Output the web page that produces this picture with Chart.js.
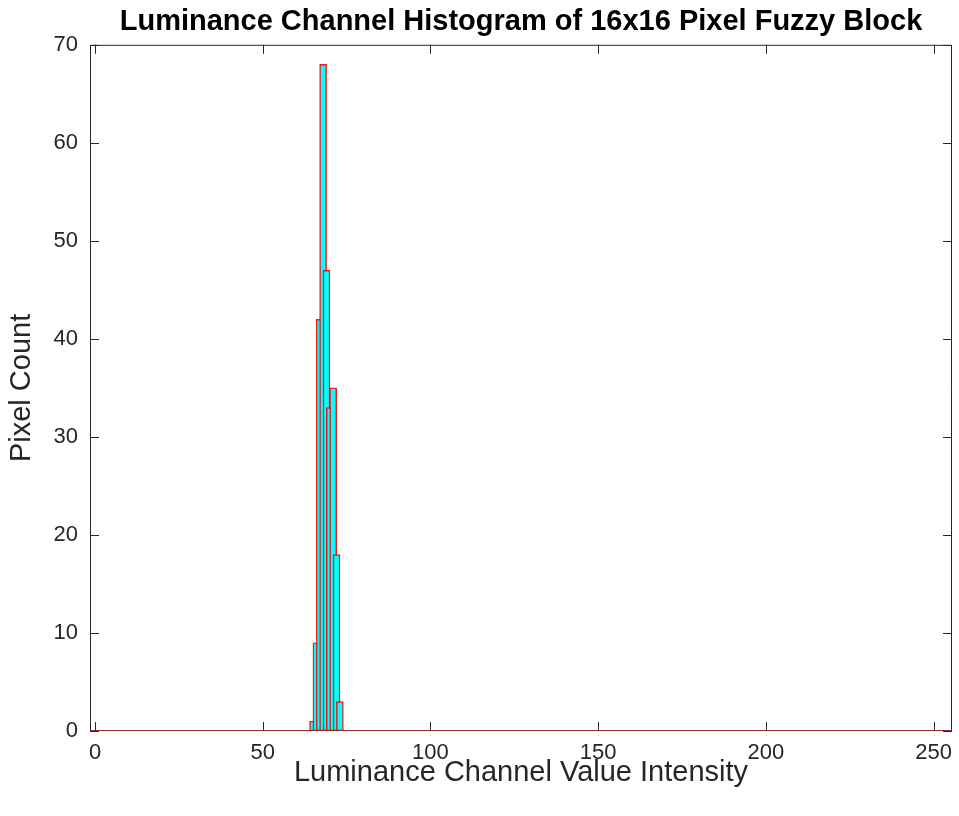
<!DOCTYPE html>
<html>
<head>
<meta charset="utf-8">
<title>Luminance Channel Histogram</title>
<script src="https://cdn.jsdelivr.net/npm/chart.js@4/dist/chart.umd.min.js"></script>
<style>
    html, body { margin: 0; padding: 0; background: #ffffff; }
    #wrap { width: 959px; height: 816px; }
</style>
</head>
<body>
<div id="wrap"><canvas id="hist-chart" width="959" height="816"></canvas></div>
<script>
// --- Data ---
const intensityBins = [65, 66, 67, 68, 69, 70, 71, 72, 73];
const pixelCounts = [1, 9, 42, 68, 47, 33, 35, 18, 3];
const xTickValues = [0, 50, 100, 150, 200, 250];
const yTickValues = [0, 10, 20, 30, 40, 50, 60, 70];

const chartTitle = "Luminance Channel Histogram of 16x16 Pixel Fuzzy Block";
const xAxisLabel = "Luminance Channel Value Intensity";
const yAxisLabel = "Pixel Count";

const axisColor = "#262626";
const fontFamily = "'Liberation Sans', Arial, Helvetica, sans-serif";

// --- Box + inward ticks (matlab style) ---
const boxPlugin = {
    id: "matlabBox",
    afterDatasetsDraw(chart) {
        const { ctx, chartArea: a, scales } = chart;
        const tickLen = 9;
        ctx.save();
        ctx.strokeStyle = axisColor;
        ctx.lineWidth = 1;
        ctx.beginPath();
        ctx.rect(a.left + 0.5, a.top + 0.5, a.right - a.left - 1, a.bottom - a.top - 1);
        xTickValues.forEach(v => {
            const px = Math.round(scales.x.getPixelForValue(v)) + 0.5;
            ctx.moveTo(px, a.bottom);
            ctx.lineTo(px, a.bottom - tickLen);
            ctx.moveTo(px, a.top);
            ctx.lineTo(px, a.top + tickLen);
        });
        yTickValues.forEach(v => {
            const py = Math.round(scales.y.getPixelForValue(v)) + 0.5;
            ctx.moveTo(a.left, py);
            ctx.lineTo(a.left + tickLen, py);
            ctx.moveTo(a.right, py);
            ctx.lineTo(a.right - tickLen, py);
        });
        ctx.stroke();

        // bar baseline
        const y0 = Math.round(scales.y.getPixelForValue(0)) - 0.5;
        ctx.strokeStyle = "rgba(170, 40, 40, 0.8)";
        ctx.beginPath();
        ctx.moveTo(a.left, y0);
        ctx.lineTo(a.right, y0);
        ctx.stroke();
        ctx.restore();
    }
};

const ctx = document.getElementById("hist-chart");

new Chart(ctx, {
    type: "bar",
    data: {
        datasets: [{
            label: yAxisLabel,
            data: intensityBins.map((b, i) => ({ x: b, y: pixelCounts[i] })),
            backgroundColor: "#00ffff",
            borderColor: "rgba(255, 0, 0, 0.9)",
            borderWidth: 1.5,
            borderSkipped: false,
            barThickness: 7
        }]
    },
    options: {
        responsive: false,
        animation: false,
        layout: { padding: { top: 0, right: 7, bottom: 0, left: 0 } },
        plugins: {
            legend: { display: false },
            tooltip: { enabled: false },
            title: {
                display: true,
                fullSize: false,
                text: chartTitle,
                color: "#000000",
                font: { family: fontFamily, size: 29, weight: "bold" },
                padding: { top: 5, bottom: 5 }
            }
        },
        scales: {
            x: {
                type: "linear",
                offset: false,
                min: -1.5,
                max: 255.5,
                afterBuildTicks: scale => { scale.ticks = xTickValues.map(v => ({ value: v })); },
                afterFit: scale => {
                    scale.height = 85;
                    scale.paddingLeft = 0;
                    scale.paddingRight = 0;
                },
                grid: { display: false, drawTicks: false },
                border: { display: false },
                ticks: {
                    color: axisColor,
                    font: { family: fontFamily, size: 22 },
                    padding: 9,
                    maxRotation: 0
                },
                title: {
                    display: true,
                    text: xAxisLabel,
                    color: axisColor,
                    font: { family: fontFamily, size: 29 },
                    padding: { top: 0, bottom: 26 }
                }
            },
            y: {
                min: 0,
                max: 70,
                afterBuildTicks: scale => { scale.ticks = yTickValues.map(v => ({ value: v })); },
                afterFit: scale => { scale.width = 90; },
                grid: { display: false, drawTicks: false },
                border: { display: false },
                ticks: {
                    color: axisColor,
                    font: { family: fontFamily, size: 22 },
                    padding: 12
                },
                title: {
                    display: true,
                    text: yAxisLabel,
                    color: axisColor,
                    font: { family: fontFamily, size: 29 },
                    padding: { top: 5, bottom: 0 }
                }
            }
        }
    },
    plugins: [boxPlugin]
});
</script>
</body>
</html>
